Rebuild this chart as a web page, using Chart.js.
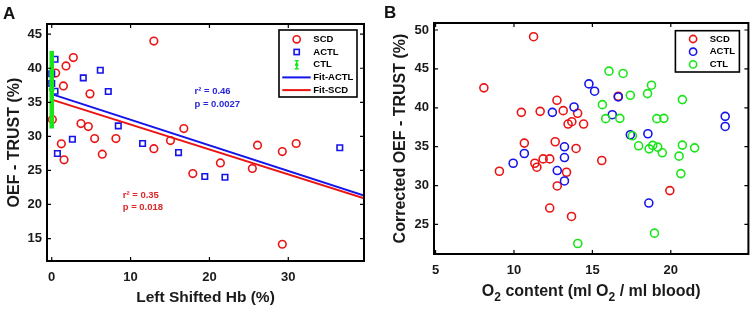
<!DOCTYPE html>
<html>
<head>
<meta charset="utf-8">
<script src="https://cdn.jsdelivr.net/npm/chart.js@4.4.0/dist/chart.umd.min.js"></script>
<style>
  html, body { margin: 0; padding: 0; background: #fff; }
  #wrap { position: relative; width: 754px; height: 309px; overflow: hidden; }
  .panel { position: absolute; top: 0; }
  .tag { position: absolute; font: bold 17px "Liberation Sans", Arial, sans-serif; color: #111; line-height: 1; }
</style>
</head>
<body>
<div id="wrap">
  <canvas id="chartA" class="panel" width="377" height="309" style="left:0"></canvas>
  <canvas id="chartB" class="panel" width="377" height="309" style="left:377px"></canvas>
  <div class="tag" style="left:3px;top:5px">A</div>
  <div class="tag" style="left:384px;top:4px">B</div>
</div>
<script>
// ---- panel A : OEF vs left shifted Hb ----
const scdShiftA = [12.95, 2.74, 1.81, 0.5, 1.48, 4.85, 0.08, 3.71, 4.64, 5.44, 8.14, 1.22, 1.56, 6.41, 12.95, 15.06, 16.75, 17.89, 21.39, 26.1, 25.44, 29.24, 31.0, 29.24];
const scdOefA   = [44.0, 41.57, 40.35, 39.3, 37.4, 36.24, 32.47, 31.88, 31.44, 29.68, 29.68, 28.9, 26.55, 27.38, 28.2, 29.39, 31.15, 24.54, 26.1, 28.7, 25.28, 27.77, 28.95, 14.16];
const actlShiftA = [0.42, 0, 0, 0.42, 4.0, 6.16, 7.17, 8.44, 2.62, 0.72, 11.52, 16.08, 19.41, 21.97, 36.53];
const actlOefA   = [41.33, 39.2, 37.76, 36.63, 38.59, 39.71, 36.58, 31.54, 29.58, 27.48, 28.95, 27.62, 24.1, 24.0, 28.32];
const ctlShiftA = [0];
const ctlMeanA  = [36.85];
const ctlSdA    = [5.7];
const fitShiftA = [0, 39.6];
const fitActlA  = [36.2, 21.3];
const fitScdA   = [35.4, 20.9];
const xTicksA = [0, 10, 20, 30];
const yTicksA = [15, 20, 25, 30, 35, 40, 45];

// ---- panel B : corrected OEF vs O2 content ----
const scdO2B  = [11.25, 8.08, 12.74, 10.47, 11.67, 13.14, 14.06, 13.45, 13.69, 14.44, 10.66, 12.63, 13.96, 11.86, 12.28, 11.33, 11.46, 9.07, 13.35, 12.76, 12.28, 13.67, 15.6, 16.65, 19.94];
const scdOefB = [49.14, 42.56, 40.96, 39.41, 39.54, 39.63, 39.29, 37.91, 38.21, 37.91, 35.46, 35.63, 34.77, 33.43, 33.43, 32.87, 32.36, 31.84, 31.71, 29.95, 27.11, 26.03, 33.22, 41.48, 29.35];
const actlO2B  = [14.78, 15.14, 13.83, 12.45, 13.22, 13.22, 10.66, 9.95, 12.76, 13.22, 16.65, 16.27, 17.42, 18.54, 18.6, 23.47, 23.47];
const actlOefB = [43.07, 42.13, 40.1, 39.41, 34.98, 33.6, 34.12, 32.87, 31.93, 30.59, 41.39, 39.11, 36.53, 36.66, 27.75, 38.9, 37.6];
const ctlO2B  = [16.06, 16.96, 18.77, 18.52, 17.42, 15.64, 20.74, 15.85, 16.75, 19.11, 19.56, 17.55, 17.95, 18.62, 18.85, 19.17, 19.46, 20.74, 21.52, 20.53, 20.64, 18.96, 14.07];
const ctlOefB = [44.71, 44.41, 42.9, 41.82, 41.61, 40.4, 41.05, 38.6, 38.64, 38.6, 38.64, 36.4, 35.11, 34.72, 35.16, 34.94, 34.21, 35.2, 34.85, 33.78, 31.54, 23.88, 22.55];
const xTicksB = [5, 10, 15, 20];
const yTicksB = [25, 30, 35, 40, 45, 50];

const RED = 'rgb(235,20,20)';
const BLUE = 'rgb(20,20,235)';
const GREEN = 'rgb(25,230,25)';
const FONT = '"Liberation Sans", Arial, sans-serif';

const pts = (xs, ys) => xs.map((x, i) => ({x: x, y: ys[i]}));

// MATLAB-like box: frame, inward ticks, notes, legend
const matBox = {
  id: 'matBox',
  afterDatasetsDraw(chart, args, o) {
    const {ctx, chartArea: a, scales} = chart;
    ctx.save();
    ctx.strokeStyle = '#000';
    ctx.lineWidth = 1.2;
    const tl = 4;
    ctx.beginPath();
    scales.x.ticks.forEach(t => {
      const px = scales.x.getPixelForValue(t.value);
      ctx.moveTo(px, a.bottom); ctx.lineTo(px, a.bottom - tl);
      ctx.moveTo(px, a.top); ctx.lineTo(px, a.top + tl);
    });
    scales.y.ticks.forEach(t => {
      const py = scales.y.getPixelForValue(t.value);
      ctx.moveTo(a.left, py); ctx.lineTo(a.left + tl, py);
      ctx.moveTo(a.right, py); ctx.lineTo(a.right - tl, py);
    });
    ctx.stroke();
    ctx.lineWidth = 2;
    ctx.strokeRect(a.left, a.top, a.right - a.left, a.bottom - a.top);

    (o.notes || []).forEach(n => {
      ctx.fillStyle = n.color;
      ctx.font = 'bold 9.5px ' + FONT;
      ctx.textBaseline = 'middle';
      ctx.textAlign = 'left';
      ctx.fillText(n.text, scales.x.getPixelForValue(n.x), scales.y.getPixelForValue(n.y));
    });

    // axis title with subscripts (O2)
    const T = o.xTitle;
    if (T) {
      ctx.fillStyle = '#1a1a1a';
      ctx.textBaseline = 'middle';
      ctx.textAlign = 'left';
      const fontOf = p => 'bold ' + (p.sub ? T.subSize : T.size) + 'px ' + FONT;
      let w = 0;
      T.parts.forEach(p => { ctx.font = fontOf(p); w += ctx.measureText(p.t).width; });
      let x = (a.left + a.right) / 2 - w / 2;
      T.parts.forEach(p => {
        ctx.font = fontOf(p);
        ctx.fillText(p.t, x, T.y + (p.sub ? T.subDrop : 0));
        x += ctx.measureText(p.t).width;
      });
    }

    const L = o.legend;
    if (L) {
      const x0 = a.right - L.right - L.w, y0 = a.top + L.top;
      ctx.fillStyle = '#fff';
      ctx.fillRect(x0, y0, L.w, L.h);
      ctx.lineWidth = 1.6;
      ctx.strokeStyle = '#000';
      ctx.strokeRect(x0, y0, L.w, L.h);
      ctx.font = 'bold 9.5px ' + FONT;
      ctx.textBaseline = 'middle';
      ctx.textAlign = 'left';
      L.items.forEach((it, i) => {
        const ds = chart.data.datasets[it.ds];
        const y = y0 + L.first + i * L.rowH;
        const cx = x0 + L.markX;
        ctx.strokeStyle = ds.borderColor;
        ctx.fillStyle = ds.borderColor;
        if (it.kind === 'line') {
          ctx.lineWidth = 2;
          ctx.beginPath(); ctx.moveTo(x0 + L.lineFrom, y); ctx.lineTo(x0 + L.lineTo, y); ctx.stroke();
        } else if (it.kind === 'err') {
          ctx.lineWidth = 1.5;
          ctx.beginPath();
          ctx.moveTo(cx, y - 4); ctx.lineTo(cx, y + 4);
          ctx.moveTo(cx - 2, y - 4); ctx.lineTo(cx + 2, y - 4);
          ctx.moveTo(cx - 2, y + 4); ctx.lineTo(cx + 2, y + 4);
          ctx.stroke();
          ctx.beginPath(); ctx.arc(cx, y, 1.8, 0, Math.PI * 2); ctx.fill();
        } else if (it.kind === 'rect') {
          ctx.lineWidth = 1.6;
          ctx.strokeRect(cx - 2.6, y - 2.6, 5.2, 5.2);
        } else {
          ctx.lineWidth = 1.6;
          ctx.beginPath(); ctx.arc(cx, y, 3.6, 0, Math.PI * 2); ctx.stroke();
        }
        ctx.fillStyle = '#000';
        ctx.fillText(ds.label, x0 + L.textX, y);
      });
    }
    ctx.restore();
  }
};

function axis(min, max, tickList, size, horizontal, title) {
  return {
    type: 'linear',
    min: min,
    max: max,
    afterFit: s => { if (horizontal) s.height = size; else s.width = size; },
    afterBuildTicks: s => { s.ticks = tickList.map(v => ({value: v})); },
    grid: {display: false, drawTicks: false},
    border: {display: false},
    ticks: {color: '#1a1a1a', font: {family: FONT, size: 13, weight: 'bold'}, padding: horizontal ? 9 : 5},
    title: title
  };
}

// panel A
const ctlBar = [];
ctlShiftA.forEach((x, i) => {
  ctlBar.push({x: x, y: ctlMeanA[i] - ctlSdA[i]}, {x: x, y: ctlMeanA[i] + ctlSdA[i]});
});

new Chart(document.getElementById('chartA'), {
  type: 'scatter',
  data: {
    datasets: [
      {label: 'SCD', data: pts(scdShiftA, scdOefA), pointStyle: 'circle', pointRadius: 3.8, pointBorderWidth: 1.6,
       borderColor: RED, backgroundColor: 'rgba(0,0,0,0)', order: 5},
      {label: 'ACTL', data: pts(actlShiftA, actlOefA), pointStyle: 'rect', pointRadius: 3.9, pointBorderWidth: 1.6,
       borderColor: BLUE, backgroundColor: 'rgba(0,0,0,0)', order: 4},
      {label: 'CTL', data: ctlBar, showLine: true, borderColor: GREEN, borderWidth: 4.5, pointRadius: 0, order: 0},
      {label: 'Fit-ACTL', data: pts(fitShiftA, fitActlA), showLine: true, borderColor: BLUE, borderWidth: 2, pointRadius: 0, order: 2},
      {label: 'Fit-SCD', data: pts(fitShiftA, fitScdA), showLine: true, borderColor: RED, borderWidth: 2, pointRadius: 0, order: 3},
      {label: 'CTL mean', data: pts(ctlShiftA, ctlMeanA), pointStyle: 'circle', pointRadius: 2.5, borderColor: GREEN,
       backgroundColor: GREEN, order: 1}
    ]
  },
  options: {
    responsive: false,
    animation: false,
    layout: {padding: {top: 24, right: 13, left: 0, bottom: 0}},
    plugins: {
      legend: {display: false},
      tooltip: {enabled: false},
      matBox: {
        notes: [
          {text: 'r\u00b2 = 0.46', x: 18.1, y: 36.6, color: 'rgb(40,40,215)'},
          {text: 'p = 0.0027', x: 18.1, y: 34.7, color: 'rgb(40,40,215)'},
          {text: 'r\u00b2 = 0.35', x: 9.0, y: 21.35, color: 'rgb(220,40,40)'},
          {text: 'p = 0.018', x: 9.0, y: 19.6, color: 'rgb(220,40,40)'}
        ],
        legend: {right: 7, top: 6, w: 78, h: 67, first: 9.3, rowH: 12.7, markX: 17.7, textX: 34.3, lineFrom: 3.3, lineTo: 31.7,
          items: [{ds: 0, kind: 'circle'}, {ds: 1, kind: 'rect'}, {ds: 2, kind: 'err'}, {ds: 3, kind: 'line'}, {ds: 4, kind: 'line'}]}
      }
    },
    scales: {
      x: axis(-0.6, 39.6, xTicksA, 48, true,
        {display: true, text: 'Left Shifted Hb (%)', color: '#1a1a1a', font: {family: FONT, size: 15.5, weight: 'bold'}, padding: {top: 0, bottom: 2}}),
      y: axis(11.7, 46.5, yTicksA, 47, false,
        {display: true, text: 'OEF - TRUST (%)', color: '#1a1a1a', font: {family: FONT, size: 16, weight: 'bold'}, padding: {top: 5, bottom: 0}})
    }
  },
  plugins: [matBox]
});

// panel B
new Chart(document.getElementById('chartB'), {
  type: 'scatter',
  data: {
    datasets: [
      {label: 'SCD', data: pts(scdO2B, scdOefB), pointStyle: 'circle', pointRadius: 4, pointBorderWidth: 1.6,
       borderColor: RED, backgroundColor: 'rgba(0,0,0,0)', order: 3},
      {label: 'ACTL', data: pts(actlO2B, actlOefB), pointStyle: 'circle', pointRadius: 4, pointBorderWidth: 1.6,
       borderColor: BLUE, backgroundColor: 'rgba(0,0,0,0)', order: 2},
      {label: 'CTL', data: pts(ctlO2B, ctlOefB), pointStyle: 'circle', pointRadius: 4, pointBorderWidth: 1.6,
       borderColor: GREEN, backgroundColor: 'rgba(0,0,0,0)', order: 1}
    ]
  },
  options: {
    responsive: false,
    animation: false,
    layout: {padding: {top: 23, right: 2, left: 0, bottom: 0}},
    plugins: {
      legend: {display: false},
      tooltip: {enabled: false},
      matBox: {
        xTitle: {y: 292, size: 16, subSize: 12, subDrop: 6,
          parts: [{t: 'O'}, {t: '2', sub: true}, {t: ' content (ml O'}, {t: '2', sub: true}, {t: ' / ml blood)'}]},
        legend: {right: 9, top: 7.7, w: 64, h: 41.3, first: 8.3, rowH: 12.7, markX: 17.7, textX: 34.3,
          items: [{ds: 0, kind: 'circle'}, {ds: 1, kind: 'circle'}, {ds: 2, kind: 'circle'}]}
      }
    },
    scales: {
      x: axis(4.9, 24.95, xTicksB, 55, true, {display: false}),
      y: axis(21.2, 50.9, yTicksB, 57, false,
        {display: true, text: 'Corrected OEF - TRUST (%)', color: '#1a1a1a', font: {family: FONT, size: 16, weight: 'bold'}, padding: {top: 14, bottom: 0}})
    }
  },
  plugins: [matBox]
});
</script>
</body>
</html>
